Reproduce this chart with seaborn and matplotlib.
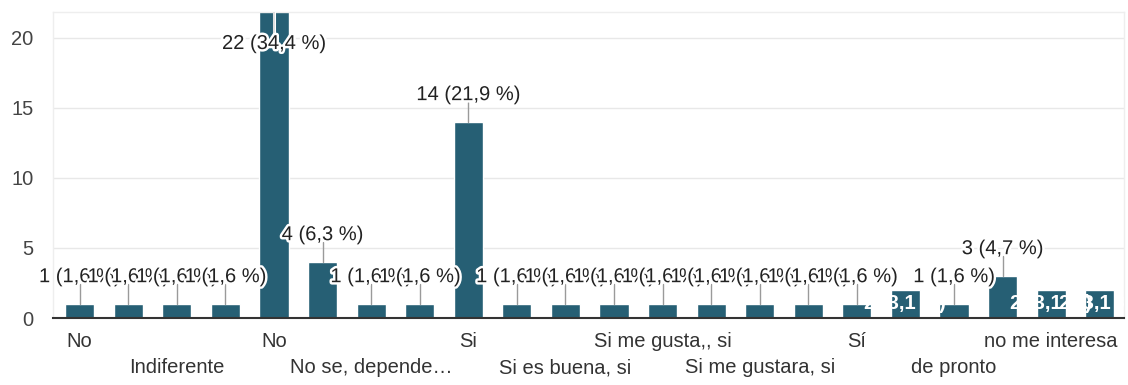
import math
import matplotlib
matplotlib.use("Agg")
import matplotlib.pyplot as plt
import matplotlib.patheffects as pe
import pandas as pd
import seaborn as sns

# Survey answers (every other one is printed under the axis) and their counts
answers = ["No", "", "Indiferente", "", "No", "", "No se, depende…", "",
           "Si", "", "Si es buena, si", "", "Si me gusta,, si", "",
           "Si me gustara, si", "", "Sí", "", "de pronto", "",
           "no me interesa", ""]
counts = [1, 1, 1, 1, 22, 4, 1, 1, 14, 1, 1, 1, 1, 1, 1, 1, 1, 2, 1, 3, 2, 2]
y_ticks = [0, 5, 10, 15, 20]

BAR = "#265f74"
TEXT = "#222222"
FS = 14.5
YMAX = 21.85
inside_labels = {17, 20, 21}   # bars whose label is written inside in white

total = sum(counts)


def label_for(v):
    p = math.floor(v * 1000 / total + 0.5) / 10
    return f"{v} ({p:.1f} %)".replace(".", ",")


df = pd.DataFrame({"pos": list(range(len(counts))), "count": counts})

sns.set_theme(style="white")
plt.rcParams["font.family"] = ["Liberation Sans", "DejaVu Sans"]

fig = plt.figure(figsize=(11.28, 3.85), dpi=100)
ax = fig.add_axes([53 / 1128, 1 - 318 / 385, (1124 - 53) / 1128, (318 - 12) / 385])

sns.barplot(data=df, x="pos", y="count", color=BAR, saturation=1, width=0.6,
            ax=ax, zorder=2)

ax.set_xlim(-0.55, 21.5)
ax.set_ylim(0, YMAX)
ax.set_yticks(y_ticks)
ax.set_yticklabels([str(t) for t in y_ticks], color="#444444", fontsize=FS)
ax.yaxis.grid(True, color="#e8e8e8", lw=1)
ax.set_axisbelow(True)

# alternate answers between two rows below the axis
ticks = []
for i, a in enumerate(answers):
    ticks.append(("\n" + a) if (i // 2) % 2 == 1 else a)
ax.set_xticks(range(len(answers)))
ax.set_xticklabels(ticks, color="#333333", fontsize=FS, linespacing=1.5)
ax.tick_params(axis="both", length=0)
ax.tick_params(axis="x", pad=10)
ax.tick_params(axis="y", pad=14)
ax.set_xlabel("")
ax.set_ylabel("")

for side in ("top", "left", "right"):
    ax.spines[side].set_color("#eeeeee")
    ax.spines[side].set_linewidth(1)
ax.spines["bottom"].set_color("#333333")
ax.spines["bottom"].set_linewidth(1.5)
ax.spines["bottom"].set_zorder(8)

halo = [pe.withStroke(linewidth=3.5, foreground="white")]
half_h = 0.55

# value labels with leader lines
for i, v in enumerate(counts):
    txt = label_for(v)
    if i in inside_labels:
        continue
    ly = min(v + 1.95, YMAX - 2.25)
    if ly > v:
        ax.plot([i, i], [v, ly - half_h], color="#9a9a9a", lw=1, zorder=3)
    else:
        ax.plot([i, i], [ly + half_h, YMAX], color="#dddddd", lw=1.3, zorder=3,
                path_effects=[pe.withStroke(linewidth=2.2, foreground="white")])
    ax.text(i, ly, txt, ha="center", va="center", color=TEXT, fontsize=FS,
            path_effects=halo, zorder=5 + i * 0.01)

for i in sorted(inside_labels):
    v = counts[i]
    ax.text(i, v / 2, label_for(v), ha="center", va="center", color="white",
            fontsize=FS, fontweight="bold", zorder=7, clip_on=True)

fig.savefig("out.png", dpi=100, facecolor="white")
